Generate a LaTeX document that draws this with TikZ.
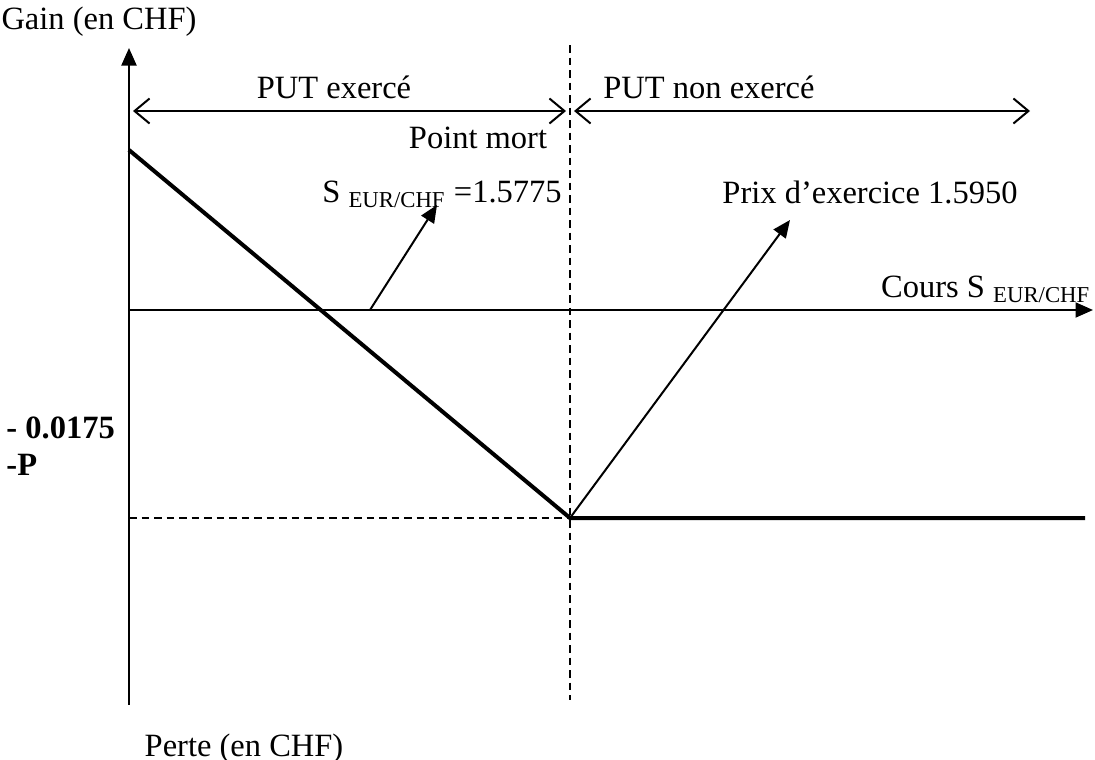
\documentclass[tikz,border=0pt]{standalone}
\usepackage{fontspec}
\setmainfont{Liberation Serif}
\usetikzlibrary{arrows.meta, positioning}
\tikzstyle{label} = [inner sep=0pt, text depth=0pt, font=\fontsize{13}{15}\selectfont]
\tikzstyle{axis} = [line width=0.8pt, -{Triangle[length=7pt,width=6pt]}]
\tikzstyle{zone} = [line width=0.8pt, {Straight Barb[length=6pt,width=10pt]}-{Straight Barb[length=6pt,width=10pt]}]
\tikzstyle{pointer} = [line width=0.8pt, -{Triangle[length=7pt,width=6pt]}]
\tikzstyle{payoff} = [line width=1.6pt]
\tikzstyle{guide} = [line width=0.5pt, dash pattern=on 3pt off 2pt]

\begin{document}
\begin{tikzpicture}[x=0.4pt, y=-0.4pt]
			\useasboundingbox (0,0) rectangle (1095,760);
			% Points
			\coordinate (origin) at (129,310);
			\coordinate (ytop) at (129,48);
			\coordinate (ybot) at (129,705);
			\coordinate (xend) at (1093,310);
			\coordinate (strike) at (570,518);
			\coordinate (start) at (129,150);
			\coordinate (flat) at (1085,518);
			\coordinate (level) at (129,518);
			\coordinate (vtop) at (570,45);
			\coordinate (vbot) at (570,700);
			\coordinate (bep) at (370,310);
			% Labels
			\node (gain) [label, anchor=west] at (1,18) {Gain (en CHF)};
			\node (perte) [label] at (244,745) {Perte (en CHF)};
			\node (cours) [label, anchor=east] at (1091,287) {Cours S \textsubscript{EUR/CHF}};
			\node (exerce) [label] at (334,87) {PUT exercé};
			\node (nonexerce) [label] at (709,87) {PUT non exercé};
			\node (mort) [label] at (478,138) {Point mort};
			\node (seuil) [label] at (442,192) {S \textsubscript{EUR/CHF} =1.5775};
			\node (prix) [label] at (870,192) {Prix d’exercice 1.5950};
			\node (prime) [label, anchor=west, font=\fontsize{13}{15}\selectfont\bfseries] at (6,428) {- 0.0175};
			\node (moinsp) [label, anchor=west, font=\fontsize{13}{15}\selectfont\bfseries] at (6,465) {-P};
			% Axes
			\draw [line width=0.8pt] (origin) -- (ybot);
			\draw [axis] (origin) -- (ytop);
			\draw [axis] (origin) -- (xend);
			\draw [guide] (vtop) -- (vbot);
			\draw [guide] (level) -- (strike);
			% Zones
			\draw [zone] (133,111) -- (566,111);
			\draw [zone] (574,111) -- (1030,111);
			% Payoff
			\draw [payoff] (start) -- (strike) -- (flat);
			% Pointers
			\draw [pointer] (bep) -- (437,205);
			\draw [pointer] (strike) -- (790,220);
		\end{tikzpicture}
\end{document}
